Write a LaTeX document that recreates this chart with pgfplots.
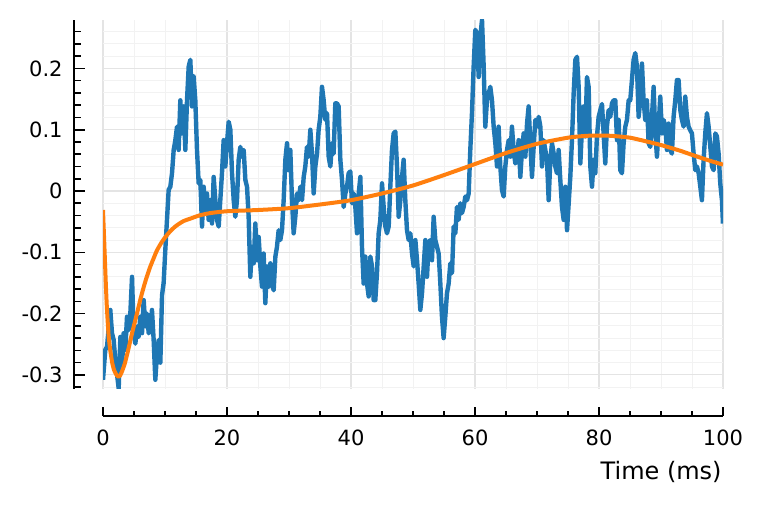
\documentclass[border=0pt]{standalone}
\usepackage{fontspec}
\setmainfont{DejaVu Sans}
\usepackage{pgfplots}
\pgfplotsset{compat=1.18}
\definecolor{jblue}{HTML}{1F77B4}
\definecolor{jorange}{HTML}{FF7F0E}
\definecolor{gmaj}{HTML}{E4E4E4}
\definecolor{gmin}{HTML}{F2F2F2}
\begin{document}
\begin{tikzpicture}
\path[use as bounding box] (0,0) rectangle (382pt,252.5pt);
\begin{axis}[at={(51.5pt,58.25pt)}, anchor=south west, scale only axis,
  width=310pt, height=184.5pt,
  xmin=0, xmax=100, ymin=-0.3222, ymax=0.2798,
  axis line style={draw=none},
  xtick={0,20,40,60,80,100}, ytick={-0.3,-0.2,-0.1,0,0.1,0.2},
  minor xtick={5,10,15,25,30,35,45,50,55,65,70,75,85,90,95},
  minor ytick={-0.32,-0.28,-0.26,-0.24,-0.22,-0.18,-0.16,-0.14,-0.12,-0.08,-0.06,-0.04,-0.02,0.02,0.04,0.06,0.08,0.12,0.14,0.16,0.18,0.22,0.24,0.26},
  xticklabels={}, yticklabels={},
  tick style={draw=none}, major tick length=0pt, minor tick length=0pt,
  grid=both,
  major grid style={gmaj, line width=0.55pt},
  minor grid style={gmin, line width=0.5pt},
]
\addplot[jblue, line width=2.2pt, line join=round] coordinates {
(0,-0.308) (0.37,-0.259) (0.65,-0.254) (1.18,-0.194) (1.45,-0.232) (1.72,-0.243) (1.99,-0.276) (2.53,-0.322) (2.80,-0.238) (3.06,-0.287) (3.33,-0.232) (3.60,-0.259) (3.87,-0.205) (4.14,-0.227) (4.41,-0.200) (4.68,-0.140) (4.95,-0.232) (5.22,-0.249) (5.48,-0.221) (5.75,-0.238) (6.02,-0.205) (6.29,-0.232) (6.56,-0.178) (6.83,-0.221) (7.10,-0.200) (7.37,-0.232) (7.63,-0.227) (7.90,-0.194) (8.17,-0.243) (8.44,-0.308) (8.71,-0.265) (8.98,-0.243) (9.25,-0.280) (9.52,-0.170) (9.78,-0.150) (10.05,-0.096) (10.59,0.002) (10.86,0.007) (11.13,0.029) (11.40,0.067) (11.67,0.083) (11.94,0.105) (12.20,0.067) (12.47,0.148) (12.74,0.094) (13.01,0.138) (13.28,0.067) (13.55,0.148) (13.82,0.203) (14.09,0.214) (14.35,0.138) (14.62,0.187) (14.89,0.148) (15.16,0.067) (15.43,0.0125) (15.70,0.018) (15.97,-0.058) (16.24,0.007) (16.51,-0.036) (16.77,-0.004) (17.04,-0.047) (17.31,-0.015) (17.58,-0.053) (17.85,0.023) (18.12,-0.015) (18.39,-0.047) (18.66,-0.058) (18.92,-0.015) (19.19,0.029) (19.46,0.083) (19.73,0.040) (20.0,0.078) (20.27,0.113) (20.54,0.100) (20.81,0.029) (21.08,-0.015) (21.34,-0.042) (21.61,-0.015) (21.88,0.051)
(22.15,0.072) (22.42,0.056) (22.69,0.067) (22.96,0.018) (23.23,0.007) (23.49,-0.042) (23.76,-0.140) (24.03,-0.091) (24.30,-0.118) (24.57,-0.053) (24.84,-0.113) (25.11,-0.075) (25.38,-0.123) (25.64,-0.156) (25.91,-0.102) (26.18,-0.183) (26.45,-0.123) (26.72,-0.156) (26.99,-0.118) (27.26,-0.151) (27.53,-0.162) (27.80,-0.107) (28.06,-0.091) (28.33,-0.064) (28.60,-0.080) (28.87,-0.064) (29.14,-0.015) (29.41,0.051) (29.68,0.078) (29.95,0.034) (30.21,0.067) (30.48,-0.015) (30.75,-0.069) (31.02,-0.042) (31.29,-0.004) (31.56,-0.015) (31.83,0.007) (32.10,-0.015) (32.37,0.023) (32.63,0.040) (32.90,0.072) (33.17,0.056) (33.44,0.100) (33.71,0.061) (33.98,-0.004) (34.25,0.040) (34.52,0.061) (34.78,0.100) (35.05,0.121) (35.32,0.170) (35.59,0.148) (35.86,0.116) (36.13,0.127) (36.40,0.056) (36.67,0.040) (36.94,0.078) (37.20,0.061) (37.47,0.143) (37.74,0.143) (38.01,0.138) (38.28,0.051) (38.55,0.018) (38.82,-0.026) (39.09,-0.004) (39.35,0.007) (39.62,0.029) (39.89,0.032) (40.16,-0.020) (40.43,-0.004) (40.70,-0.026) (40.97,-0.069) (41.24,-0.004) (41.51,0.023) (41.77,-0.091) (42.04,-0.151) (42.31,-0.107) (42.58,-0.151) (42.85,-0.172) (43.12,-0.107) (43.39,-0.123) (43.66,-0.178) (43.92,-0.178) (44.19,-0.134) (44.46,-0.069) (44.73,-0.047) (45.0,0.0125) (45.27,-0.026) (45.54,-0.058) (45.81,-0.069) (46.08,-0.058) (46.34,0.007) (46.61,0.067) (46.88,0.094) (47.15,0.097) (47.42,0.040) (47.69,-0.042) (47.96,-0.015) (48.23,0.023) (48.49,0.051) (48.76,-0.015) (49.03,-0.064) (49.30,-0.080) (49.57,-0.069) (49.84,-0.102) (50.11,-0.123) (50.38,-0.080) (50.65,-0.113) (50.91,-0.151) (51.18,-0.194)
(51.45,-0.167) (51.72,-0.124) (51.99,-0.080) (52.26,-0.140) (52.52,-0.085) (52.79,-0.080) (53.06,-0.113) (53.33,-0.042) (53.60,-0.080) (53.87,-0.091) (54.14,-0.102) (54.41,-0.151) (54.67,-0.205) (54.94,-0.240) (55.21,-0.205) (55.48,-0.167) (55.75,-0.151) (56.02,-0.118) (56.29,-0.134) (56.56,-0.058) (56.83,-0.069) (57.09,-0.026) (57.36,-0.047) (57.63,-0.020) (57.90,-0.036) (58.17,-0.026) (58.44,-0.009) (58.71,-0.015) (58.98,-0.004) (59.24,0.067) (59.51,0.127) (59.78,0.203) (60.05,0.263) (60.32,0.257) (60.59,0.186) (60.86,0.252) (61.13,0.279) (61.40,0.203) (61.66,0.105) (61.93,0.148) (62.20,0.159) (62.47,0.170) (62.74,0.148) (63.01,0.105) (63.28,0.078) (63.55,0.040) (63.81,0.105) (64.08,0.040) (64.35,0.0016) (64.62,-0.009) (64.89,0.040) (65.16,0.067) (65.43,0.083) (65.70,0.056) (65.96,0.105) (66.23,0.067) (66.50,0.045) (66.77,0.051) (67.04,0.083) (67.31,0.023) (67.58,0.067) (67.85,0.094) (68.12,0.056) (68.39,0.110) (68.65,0.138) (68.92,0.078) (69.19,0.023) (69.46,0.072) (69.73,0.116) (70.0,0.105) (70.27,0.121) (70.54,0.105) (70.80,0.040) (71.07,0.083) (71.34,0.067) (71.61,0.051) (71.88,-0.015) (72.15,0.051) (72.42,0.078) (72.69,0.061) (72.95,0.040) (73.22,0.029) (73.49,0.067) (73.76,0.018) (74.03,-0.026) (74.30,-0.047) (74.57,0.007) (74.84,-0.064) (75.11,-0.020) (75.37,0.023) (75.64,0.083) (75.91,0.159) (76.18,0.214) (76.45,0.219) (76.72,0.170) (76.99,0.045) (77.26,0.105) (77.52,0.138) (77.79,0.089) (78.06,0.186) (78.33,0.170) (78.60,0.040) (78.87,0.007)
(79.13,0.051) (79.40,0.029) (79.67,0.089) (79.94,0.121) (80.21,0.132) (80.48,0.142) (80.74,0.094) (81.01,0.045) (81.28,0.105) (81.55,0.132) (81.82,0.121) (82.09,0.143) (82.36,0.148) (82.63,0.148) (82.90,0.083) (83.17,0.116) (83.43,0.034) (83.70,0.029) (83.97,0.078) (84.24,0.105) (84.51,0.116) (84.78,0.148) (85.04,0.148) (85.31,0.181) (85.58,0.214) (85.85,0.225) (86.12,0.203) (86.39,0.121) (86.66,0.148) (86.93,0.208) (87.19,0.148) (87.46,0.116) (87.73,0.148) (88.0,0.078) (88.27,0.072) (88.54,0.121) (88.81,0.170) (89.08,0.094) (89.35,0.056) (89.61,0.105) (89.88,0.154) (90.15,0.094) (90.42,0.116) (90.69,0.105) (90.96,0.067) (91.23,0.110) (91.50,0.067) (91.76,0.061) (92.03,0.121) (92.30,0.148) (92.57,0.181) (92.84,0.181) (93.11,0.132) (93.38,0.116) (93.65,0.105) (93.91,0.154) (94.18,0.121) (94.45,0.105) (94.72,0.099) (94.99,0.094) (95.26,0.061) (95.53,0.034) (95.80,0.040) (96.07,0.029) (96.34,0.007) (96.60,-0.015) (96.87,0.051) (97.14,0.094) (97.41,0.127) (97.68,0.105) (97.95,0.072) (98.22,0.040) (98.49,0.034) (98.76,0.094) (99.02,0.089) (99.29,0.061) (99.56,0.012) (99.83,-0.015) (99.99,-0.053)
};
\addplot[jorange, line width=2pt, line join=round, smooth, tension=0.4] coordinates {
(0,-0.031) (0.15,-0.070) (0.3,-0.110) (0.45,-0.150) (0.6,-0.185) (0.75,-0.212) (0.9,-0.235) (1.05,-0.250) (1.2,-0.262) (1.5,-0.281) (1.75,-0.291) (2.0,-0.297) (2.25,-0.301) (2.5,-0.303) (2.75,-0.301) (3.0,-0.296) (3.5,-0.282) (4.0,-0.262) (4.5,-0.240) (5.0,-0.219) (5.5,-0.199) (6.0,-0.178) (6.5,-0.159) (7.0,-0.142) (7.6,-0.124) (8.2,-0.109) (8.7,-0.097) (9.5,-0.083) (10.3,-0.072) (11.1,-0.063) (11.9,-0.056) (13,-0.049) (14.1,-0.045) (15.5,-0.040) (17.3,-0.036) (20,-0.033) (25,-0.031) (30,-0.028) (35,-0.022) (40,-0.015) (45,-0.004) (50,0.009) (55,0.026) (60,0.044) (65,0.062) (70,0.077) (75,0.087) (78,0.090) (80,0.0905) (82,0.090) (85,0.087) (88,0.080) (90,0.075) (93,0.066) (95,0.059) (98,0.049) (100,0.043)
};
\end{axis}
% offset y spine
\begin{axis}[at={(37pt,58.25pt)}, anchor=south west, scale only axis,
  width=1pt, height=184.5pt,
  xmin=0, xmax=1, ymin=-0.3222, ymax=0.2798,
  hide x axis, axis y line=left,
  y axis line style={line width=1pt, -},
  ytick={-0.3,-0.2,-0.1,0,0.1,0.2},
  yticklabels={-0.3,-0.2,-0.1,0,0.1,0.2},
  minor ytick={-0.32,-0.28,-0.26,-0.24,-0.22,-0.18,-0.16,-0.14,-0.12,-0.08,-0.06,-0.04,-0.02,0.02,0.04,0.06,0.08,0.12,0.14,0.16,0.18,0.22,0.24,0.26},
  ytick align=inside, major tick length=5.5pt, minor tick length=3.5pt,
  every tick/.style={black, line width=0.8pt},
  yticklabel style={font=\fontsize{10.5}{12}\selectfont, anchor=east, inner sep=0pt, xshift=-5.5pt},
]
\end{axis}
% offset x spine
\begin{axis}[at={(51.5pt,44.5pt)}, anchor=south west, scale only axis,
  width=310pt, height=1pt,
  xmin=0, xmax=100, ymin=0, ymax=1,
  hide y axis, axis x line=bottom,
  x axis line style={line width=1pt, -},
  xtick={0,20,40,60,80,100},
  xticklabels={0,20,40,60,80,100},
  minor xtick={5,10,15,25,30,35,45,50,55,65,70,75,85,90,95},
  xtick align=inside, major tick length=4.5pt, minor tick length=2.5pt,
  every tick/.style={black, line width=0.8pt},
  xticklabel style={font=\fontsize{10.5}{12}\selectfont, anchor=north, inner sep=0pt, yshift=-7pt},
]
\end{axis}
\node[anchor=east, inner sep=0pt, font=\fontsize{12}{14}\selectfont] at (361pt,16.5pt) {Time (ms)};
\end{tikzpicture}
\end{document}
